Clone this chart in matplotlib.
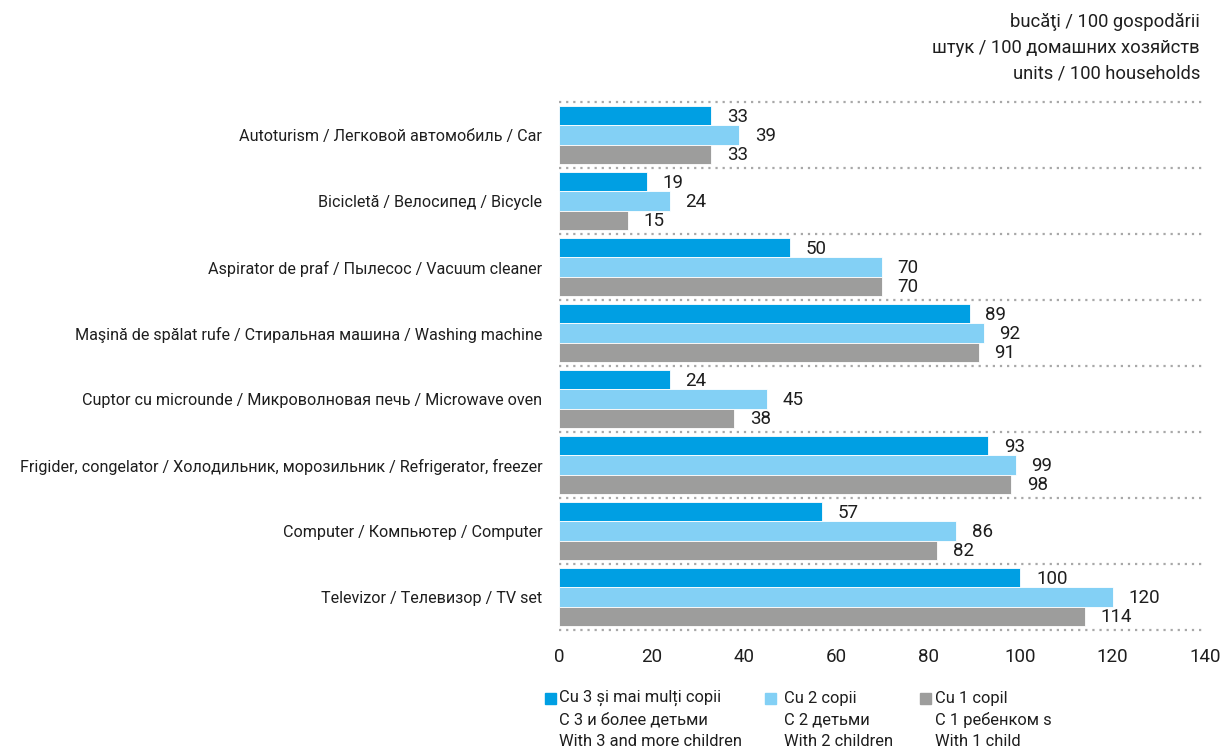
import matplotlib
matplotlib.use("Agg")
import matplotlib.pyplot as plt
from matplotlib.patches import Rectangle
import numpy as np

plt.rcParams['font.family'] = ['Roboto', 'DejaVu Sans']

categories = [
    "Autoturism / Легковой автомобиль / Car",
    "Bicicletă / Велосипед / Bicycle",
    "Aspirator de praf / Пылесос / Vacuum cleaner",
    "Maşină de spălat rufe / Стиральная машина / Washing machine",
    "Cuptor cu microunde / Микроволновая печь / Microwave oven",
    "Frigider, congelator / Холодильник, морозильник / Refrigerator, freezer",
    "Computer / Компьютер / Computer",
    "Televizor / Телевизор / TV set",
]
three_plus = [33, 19, 50, 89, 24, 93, 57, 100]
two_children = [39, 24, 70, 92, 45, 99, 86, 120]
one_child = [33, 15, 70, 91, 38, 98, 82, 114]
xticks = [0, 20, 40, 60, 80, 100, 120, 140]

series = [three_plus, two_children, one_child]
colors = ["#009FE3", "#83D0F5", "#9D9D9C"]
legend_lines = [
    ["Cu 3 și mai mulți copii", "С 3 и более детьми", "With 3 and more children"],
    ["Cu 2 copii", "С 2 детьми", "With 2 children"],
    ["Cu 1 copil", "С 1 ребенком s", "With 1 child"],
]
unit_lines = ["bucăţi / 100 gospodării", "штук / 100 домашних хозяйств", "units / 100 households"]

TXT = "#1e1e1e"
W, H = 1223, 749
fig = plt.figure(figsize=(W / 100, H / 100), dpi=100)
ax = fig.add_axes([559 / W, 1 - 630 / H, (1205 - 559) / W, (630 - 102) / H])

n = len(categories)
bh = 0.29
y0 = np.arange(n)
for i, (vals, c) in enumerate(zip(series, colors)):
    ys = y0 + (i - 1) * bh
    ax.barh(ys, vals, height=bh, color=c, edgecolor="white", linewidth=0.6)
    for yy, v in zip(ys, vals):
        ax.text(v + 3.4, yy + 0.02, str(v), va="center", ha="left", fontsize=13.5, color=TXT)

ax.set_ylim(n - 0.5, -0.5)
ax.set_xlim(0, 140)
ax.set_xticks(xticks)
ax.set_xticklabels([str(t) for t in xticks], fontsize=13.5, color=TXT)
ax.set_yticks(y0)
ax.set_yticklabels(categories, fontsize=11.6, color=TXT)
ax.tick_params(length=0, axis="both")
ax.tick_params(axis="x", pad=13)
ax.tick_params(axis="y", pad=12)
for s in ax.spines.values():
    s.set_visible(False)
for b in np.arange(-0.5, n, 1.0):
    ax.axhline(b, color="#A8A8A8", linestyle=(0, (1, 2.2)), linewidth=1.6, xmax=0.995, clip_on=False)

# unit header
for k, t in enumerate(unit_lines):
    fig.text(1200 / W, 1 - (22 + 26 * k) / H, t, ha="right", va="center", fontsize=13.2, color=TXT)

# legend
lx = [545, 765, 920]
tx = [559, 784, 935]
for j in range(3):
    fig.patches.append(Rectangle(((lx[j]) / W, 1 - 704 / H), 11 / W, 11 / H,
                                 transform=fig.transFigure, color=colors[j]))
    for k, t in enumerate(legend_lines[j]):
        fig.text(tx[j] / W, 1 - (698 + 22 * k) / H, t, ha="left", va="center",
                 fontsize=11.9, color=TXT)

fig.savefig("out.png", dpi=100)
